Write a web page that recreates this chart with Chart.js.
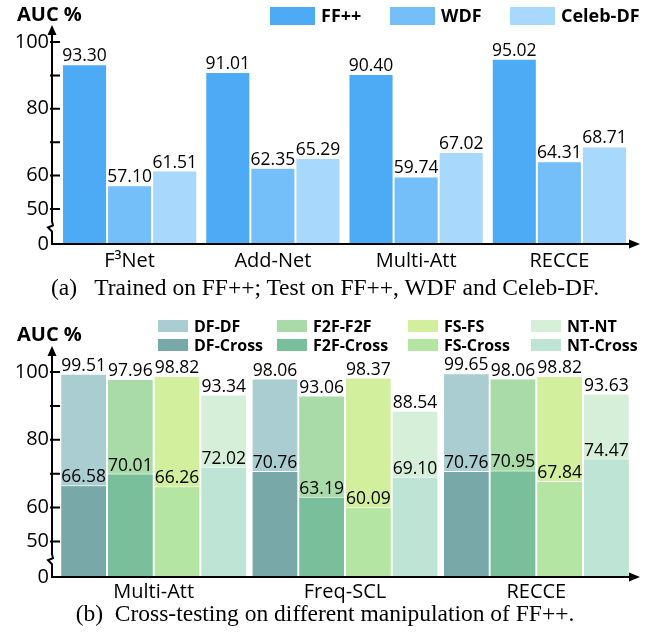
<!DOCTYPE html>
<html lang="en">
<head>
  <meta charset="UTF-8">
  <title>AUC comparison</title>
  <script src="https://cdn.jsdelivr.net/npm/chart.js"></script>
  <style>
    body { margin: 0; background: #fff; width: 650px; height: 634px; overflow: hidden; position: relative; }
    .plot { position: absolute; left: 0; }
    .cap { position: absolute; left: 0; width: 650px; text-align: center; font-family: "Liberation Serif", serif; font-size: 23.5px; line-height: 24px; color: #000; }
  </style>
</head>
<body>
<canvas id="chartA" class="plot" style="top:0" width="650" height="280"></canvas>
<div class="cap" style="top:275px">(a)&nbsp;&nbsp; Trained on FF++; Test on FF++, WDF and Celeb-DF.</div>
<canvas id="chartB" class="plot" style="top:305px" width="650" height="302"></canvas>
<div class="cap" style="top:601px">(b)&nbsp; Cross-testing on different manipulation of FF++.</div>

<script>
  // (a) trained on FF++
  const methodsA = ['F³Net', 'Add-Net', 'Multi-Att', 'RECCE'];
  const ffpp = [93.30, 91.01, 90.40, 95.02];
  const wdf = [57.10, 62.35, 59.74, 64.31];
  const celebdf = [61.51, 65.29, 67.02, 68.71];

  // (b) cross-testing
  const methodsB = ['Multi-Att', 'Freq-SCL', 'RECCE'];
  const dfIn = [99.51, 98.06, 99.65];
  const dfCross = [66.58, 70.76, 70.76];
  const f2fIn = [97.96, 93.06, 98.06];
  const f2fCross = [70.01, 63.19, 70.95];
  const fsIn = [98.82, 98.37, 98.82];
  const fsCross = [66.26, 60.09, 67.84];
  const ntIn = [93.34, 88.54, 93.63];
  const ntCross = [72.02, 69.10, 74.47];

  const yTicks = [0, 50, 60, 70, 80, 90, 100];
  const yTickLabels = ['0', '50', '60', '', '80', '', '100'];

  const FONT = '"Open Sans", sans-serif';

  // broken axis: 0..50 squeezed into a short segment
  const BRK = 50, GAP = 10.5;
  const tf = v => v >= BRK ? v - BRK + GAP : v * GAP / BRK;

  const valueLabels = {
    id: 'valueLabels',
    afterDatasetsDraw(chart) {
      const ctx = chart.ctx;
      ctx.save();
      ctx.font = '17.5px ' + FONT;
      ctx.fillStyle = '#000';
      ctx.textAlign = 'center';
      ctx.textBaseline = 'alphabetic';
      chart.data.datasets.forEach((ds, i) => {
        chart.getDatasetMeta(i).data.forEach((bar, j) => {
          ctx.fillText(ds.values[j].toFixed(2), bar.x, bar.y - 3);
        });
      });
      ctx.restore();
    }
  };

  const axes = {
    id: 'axes',
    afterDraw(chart, args, opts) {
      const ctx = chart.ctx, a = chart.chartArea, y = chart.scales.y;
      const ax = a.left - 6, yb = a.bottom;
      const brk = y.getPixelForValue(tf(25));
      const tip = a.top - opts.tipAbove;
      ctx.save();
      ctx.strokeStyle = '#000';
      ctx.fillStyle = '#000';
      ctx.lineWidth = 2;
      ctx.beginPath();
      ctx.moveTo(ax - 1, yb); ctx.lineTo(631, yb);
      ctx.moveTo(ax, yb); ctx.lineTo(ax, brk + 5);
      ctx.lineTo(ax - 4, brk + 1); ctx.lineTo(ax + 1, brk - 1); ctx.lineTo(ax, brk - 5);
      ctx.lineTo(ax, tip + 8);
      yTicks.slice(1).forEach(v => {
        const py = y.getPixelForValue(tf(v));
        ctx.moveTo(ax - 2, py); ctx.lineTo(ax + 8, py);
      });
      ctx.stroke();
      // arrow heads
      ctx.beginPath();
      ctx.moveTo(ax, tip); ctx.lineTo(ax - 4.5, tip + 10); ctx.lineTo(ax + 4.5, tip + 10); ctx.closePath();
      ctx.moveTo(640, yb); ctx.lineTo(629, yb - 4.5); ctx.lineTo(629, yb + 4.5); ctx.closePath();
      ctx.fill();
      // axis title
      ctx.font = 'bold 20px ' + FONT;
      ctx.textBaseline = 'middle';
      ctx.fillText('AUC %', 17, opts.titleY);
      ctx.restore();
    }
  };

  const boxLegend = {
    id: 'boxLegend',
    afterDraw(chart, args, opts) {
      const ctx = chart.ctx;
      ctx.save();
      ctx.font = 'bold ' + opts.size + 'px ' + FONT;
      ctx.textBaseline = 'middle';
      opts.items.forEach(it => {
        const ds = chart.data.datasets.find(d => d.label === it.label);
        ctx.fillStyle = ds.backgroundColor;
        ctx.fillRect(it.x, it.y - opts.h / 2, opts.w, opts.h);
        ctx.fillStyle = '#000';
        ctx.fillText(it.label, it.x + opts.w + opts.gap, it.y + 1);
      });
      ctx.restore();
    }
  };

  function yScale(w) {
    return {
      min: 0, max: tf(100),
      grid: { display: false, drawTicks: false },
      border: { display: false },
      afterBuildTicks: s => { s.ticks = yTicks.map(v => ({ value: tf(v) })); },
      afterFit: s => { s.width = w; },
      ticks: { autoSkip: false, color: '#000', padding: 9, font: { family: FONT, size: 20 },
        callback: (v, i) => yTickLabels[i] }
    };
  }

  function xScale(pad, stacked) {
    return {
      stacked: stacked,
      grid: { display: false, drawTicks: false },
      border: { display: false },
      ticks: { color: '#000', padding: pad, font: { family: FONT, size: 20 } }
    };
  }

  const bar = (label, values, color, extra) => Object.assign({
    label: label, values: values, data: values.map(tf),
    backgroundColor: color, borderColor: '#fff', borderWidth: 1, borderSkipped: 'bottom'
  }, extra || {});

  new Chart(document.getElementById('chartA'), {
    type: 'bar',
    data: {
      labels: methodsA,
      datasets: [
        bar('FF++', ffpp, '#4dabf5'),
        bar('WDF', wdf, '#74bef9'),
        bar('Celeb-DF', celebdf, '#a8d8fc')
      ]
    },
    options: {
      responsive: false, animation: false, devicePixelRatio: 1,
      layout: { padding: { left: 12, right: 19, top: 42, bottom: 2 } },
      datasets: { bar: { categoryPercentage: 0.944, barPercentage: 1 } },
      plugins: {
        legend: { display: false }, tooltip: { enabled: false },
        axes: { tipAbove: 17, titleY: 15 },
        boxLegend: { size: 18, w: 45, h: 18, gap: 6, items: [
          { label: 'FF++', x: 270, y: 16 },
          { label: 'WDF', x: 390, y: 16 },
          { label: 'Celeb-DF', x: 510, y: 16 }
        ] }
      },
      scales: { x: xScale(5, false), y: yScale(46) }
    },
    plugins: [valueLabels, axes, boxLegend]
  });

  const cross = { order: 0 };
  const inDom = { order: 1 };

  new Chart(document.getElementById('chartB'), {
    type: 'bar',
    data: {
      labels: methodsB,
      datasets: [
        bar('DF-DF', dfIn, '#a9cdd0', Object.assign({ stack: 'DF' }, inDom)),
        bar('F2F-F2F', f2fIn, '#a8dba8', Object.assign({ stack: 'F2F' }, inDom)),
        bar('FS-FS', fsIn, '#d2ef9d', Object.assign({ stack: 'FS' }, inDom)),
        bar('NT-NT', ntIn, '#d6efd8', Object.assign({ stack: 'NT' }, inDom)),
        bar('DF-Cross', dfCross, '#79a8a8', Object.assign({ stack: 'DF' }, cross)),
        bar('F2F-Cross', f2fCross, '#7abf9b', Object.assign({ stack: 'F2F' }, cross)),
        bar('FS-Cross', fsCross, '#b5e5a2', Object.assign({ stack: 'FS' }, cross)),
        bar('NT-Cross', ntCross, '#bde4d4', Object.assign({ stack: 'NT' }, cross))
      ]
    },
    options: {
      responsive: false, animation: false, devicePixelRatio: 1,
      layout: { padding: { left: 12, right: 18, top: 67, bottom: 0 } },
      datasets: { bar: { categoryPercentage: 0.976, barPercentage: 1 } },
      plugins: {
        legend: { display: false }, tooltip: { enabled: false },
        axes: { tipAbove: 26, titleY: 30 },
        boxLegend: { size: 16, w: 30, h: 12, gap: 6, items: [
          { label: 'DF-DF', x: 158, y: 21 }, { label: 'F2F-F2F', x: 277, y: 21 },
          { label: 'FS-FS', x: 408, y: 21 }, { label: 'NT-NT', x: 531, y: 21 },
          { label: 'DF-Cross', x: 158, y: 40 }, { label: 'F2F-Cross', x: 277, y: 40 },
          { label: 'FS-Cross', x: 408, y: 40 }, { label: 'NT-Cross', x: 531, y: 40 }
        ] }
      },
      scales: { x: xScale(3, true), y: Object.assign(yScale(46), { stacked: false }) }
    },
    plugins: [valueLabels, axes, boxLegend]
  });
</script>
</body>
</html>
